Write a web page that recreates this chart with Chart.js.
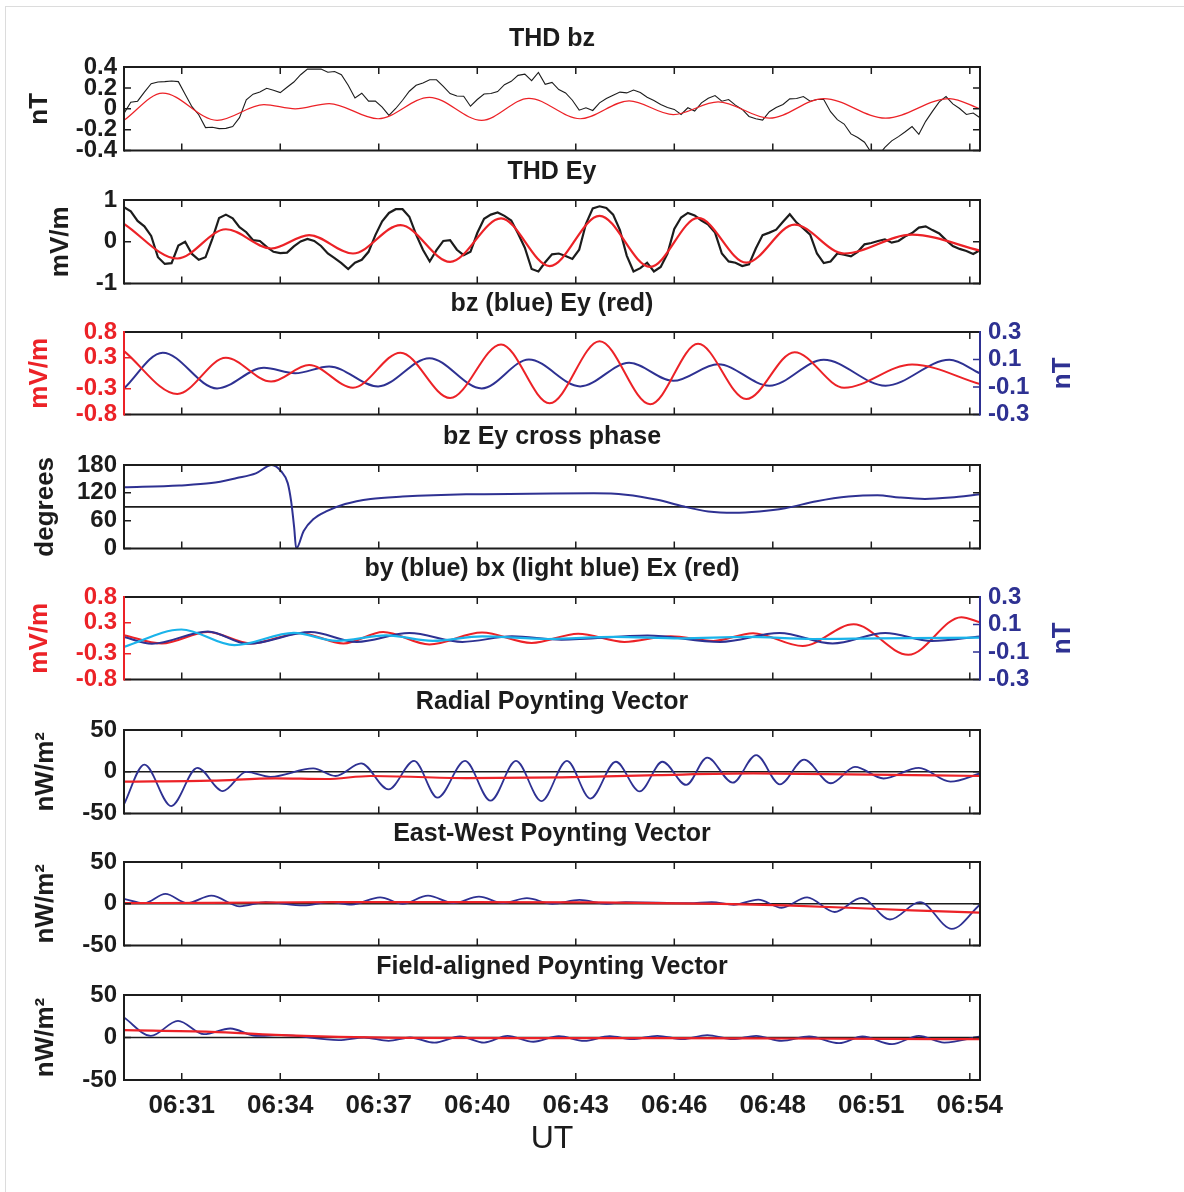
<!DOCTYPE html>
<html>
<head>
<meta charset="utf-8">
<script src="https://cdn.jsdelivr.net/npm/chart.js@4.4.1/dist/chart.umd.min.js"></script>
<style>
  html, body { margin: 0; padding: 0; background: #fff; }
  #page { position: relative; width: 1184px; height: 1192px; overflow: hidden; background: #fff; }
  #edge { position: absolute; left: 5px; top: 6px; width: 1200px; height: 1200px; border-left: 1px solid #dcdcdc; border-top: 1px solid #dcdcdc; }
  canvas { position: absolute; left: 0; }
</style>
</head>
<body>
<div id="page"><div id="edge"></div></div>
<script>
// time axis, minutes after 06:00 UT
const tMin = 29.8, tMax = 55.0;
const tickMinutes = [31.5, 34.4, 37.3, 40.2, 43.1, 46.0, 48.9, 51.8, 54.7];
const tickLabels = ['06:31', '06:34', '06:37', '06:40', '06:43', '06:46', '06:48', '06:51', '06:54'];

// y tick sets
const bzTicks = [-0.4, -0.2, 0, 0.2, 0.4];
const eyTicks = [-1, 0, 1];
const mvTicks = [-0.8, -0.3, 0.3, 0.8];
const ntTicks = [-0.3, -0.1, 0.1, 0.3];
const phaseTicks = [0, 60, 120, 180];
const fluxTicks = [-50, 0, 50];

// raw THD samples, every 0.2 min
const gridT = [
  29.8,30,30.2,30.4,30.6,30.8,31,31.2,31.4,31.6,
  31.8,32,32.2,32.4,32.6,32.8,33,33.2,33.4,33.6,
  33.8,34,34.2,34.4,34.6,34.8,35,35.2,35.4,35.6,
  35.8,36,36.2,36.4,36.6,36.8,37,37.2,37.4,37.6,
  37.8,38,38.2,38.4,38.6,38.8,39,39.2,39.4,39.6,
  39.8,40,40.2,40.4,40.6,40.8,41,41.2,41.4,41.6,
  41.8,42,42.2,42.4,42.6,42.8,43,43.2,43.4,43.6,
  43.8,44,44.2,44.4,44.6,44.8,45,45.2,45.4,45.6,
  45.8,46,46.2,46.4,46.6,46.8,47,47.2,47.4,47.6,
  47.8,48,48.2,48.4,48.6,48.8,49,49.2,49.4,49.6,
  49.8,50,50.2,50.4,50.6,50.8,51,51.2,51.4,51.6,
  51.8,52,52.2,52.4,52.6,52.8,53,53.2,53.4,53.6,
  53.8,54,54.2,54.4,54.6,54.8,55
];
const bzObs = [
  -0.044,0.063,0.073,0.16,0.24,0.256,0.26,0.266,0.26,0.14,
  0.02,-0.057,-0.18,-0.177,-0.19,-0.187,-0.17,-0.085,0.085,0.14,
  0.16,0.196,0.177,0.155,0.206,0.256,0.326,0.38,0.38,0.38,
  0.35,0.357,0.326,0.225,0.104,0.149,0.073,0.073,0.016,-0.063,
  0.003,0.082,0.168,0.225,0.247,0.278,0.278,0.215,0.146,0.123,
  0.12,0.025,0.089,0.142,0.146,0.165,0.231,0.263,0.32,0.332,
  0.27,0.348,0.234,0.253,0.184,0.152,0.082,-0.013,0.01,-0.016,
  0.057,0.098,0.13,0.16,0.152,0.18,0.155,0.11,0.079,0.041,
  0.013,-0.006,-0.054,0.01,-0.022,0.057,0.101,0.127,0.073,0.089,
  0.035,-0.006,-0.073,-0.095,-0.108,-0.028,0.013,0.041,0.095,0.098,
  0.117,0.073,0.089,0.089,-0.028,-0.104,-0.146,-0.24,-0.275,-0.32,
  -0.42,-0.45,-0.37,-0.307,-0.266,-0.22,-0.17,-0.244,-0.12,-0.025,
  0.066,0.117,0.047,0.003,-0.054,-0.041,-0.085
];
const eyObs = [
  0.83,0.73,0.50,0.37,0.14,-0.37,-0.53,-0.51,-0.09,0.0,
  -0.29,-0.43,-0.37,0.07,0.57,0.65,0.56,0.35,0.23,0.04,
  0.02,-0.12,-0.24,-0.27,-0.26,-0.11,0.01,0.07,0.02,-0.10,
  -0.28,-0.39,-0.51,-0.65,-0.50,-0.43,-0.24,0.16,0.49,0.69,
  0.78,0.78,0.60,0.17,-0.19,-0.47,-0.20,0.02,0.04,-0.19,
  -0.32,-0.24,0.21,0.55,0.65,0.70,0.62,0.51,0.20,-0.14,
  -0.65,-0.71,-0.49,-0.30,-0.28,-0.34,-0.41,-0.19,0.43,0.80,
  0.85,0.81,0.65,0.28,-0.33,-0.71,-0.63,-0.50,-0.71,-0.60,
  -0.28,0.31,0.58,0.69,0.63,0.51,0.41,0.22,-0.28,-0.47,
  -0.50,-0.58,-0.54,-0.16,0.16,0.22,0.29,0.48,0.66,0.46,
  0.32,0.17,-0.28,-0.51,-0.47,-0.28,-0.31,-0.35,-0.24,-0.06,
  -0.03,0.02,0.06,-0.02,0.02,0.13,0.21,0.34,0.37,0.28,
  0.20,0.04,-0.10,-0.17,-0.22,-0.29,-0.20
];

// band-passed bz and Ey (turning points)
const bzFitT = [29.8,30.94,32.54,33.92,34.84,35.84,37.28,38.79,40.33,41.72,43.23,44.67,45.97,47.29,48.8,50.4,52.22,54.1,55.0];
const bzFitV = [-0.11,0.15,-0.11,0.04,0.0,0.05,-0.095,0.11,-0.11,0.10,-0.095,0.076,-0.055,0.066,-0.09,0.098,-0.09,0.098,0.0];
const eyFitT = [29.8,31.37,32.8,34.13,35.25,36.54,37.94,39.4,40.9,42.33,43.8,45.29,46.7,48.12,49.54,51.0,53.0,55.0];
const eyFitV = [0.43,-0.40,0.30,-0.16,0.16,-0.28,0.40,-0.48,0.56,-0.58,0.62,-0.60,0.57,-0.50,0.41,-0.28,0.17,-0.21];

// bz-Ey cross phase, degrees
const phaseT = [29.8,31.43,32.37,33.12,33.68,34.15,34.43,34.62,34.72,34.81,34.87,35.09,35.37,35.75,36.31,37.06,38.0,39.87,41.75,43.63,44.57,45.5,46.25,47.0,47.75,48.5,49.26,50.19,51.13,51.98,52.63,53.38,54.13,55.0];
const phaseV = [132,136,141,152,162,180,166,141,102,45,0,38,63,80,96,107,112,117,118,119,116,105,91,80,77,80,87,102,112,115,110,107,110,117];
const phaseRef = [90, 90];

// Ex, by, bx
const exT = [29.8,30.91,32.27,33.54,35.0,36.26,37.43,38.79,40.34,41.8,43.17,44.53,45.89,47.15,48.32,49.78,51.28,52.89,54.45,55.0];
const exV = [0.06,-0.10,0.12,-0.10,0.10,-0.10,0.12,-0.12,0.11,-0.09,0.09,-0.07,0.04,-0.05,0.10,-0.15,0.27,-0.32,0.41,0.31];
const byT = [29.8,30.62,32.27,33.44,35.29,36.65,38.2,39.76,41.22,42.68,45.21,47.35,49.1,50.66,52.21,53.58,55.0];
const byV = [0.01,-0.04,0.05,-0.04,0.045,-0.026,0.038,-0.026,0.014,-0.01,0.02,-0.026,0.038,-0.038,0.038,-0.019,0.014];
const bxT = [29.8,31.49,33.05,34.8,36.06,37.52,38.89,40.34,42.29,44.24,46.18,48.13,50.07,52.02,55.0];
const bxV = [-0.062,0.064,-0.05,0.04,-0.019,0.021,-0.019,0.014,-0.005,0.01,0.0,0.01,-0.005,0.0,0.005];

// Poynting flux components, nW/m^2 (wave and running mean)
const radialT = [29.8,30.4,31.19,31.96,32.71,33.4,34.12,35.37,36.03,36.78,37.59,38.34,39.03,39.84,40.59,41.34,42.09,42.84,43.53,44.28,44.98,45.65,46.35,46.97,47.72,48.41,49.11,49.82,50.61,51.32,52.16,53.2,54.13,55.0];
const radialV = [-39,8.6,-41,4.7,-23,0,-6,4,-5,10,-21,13,-31,13,-34.5,13,-35,13,-32,12,-23.5,12,-15.7,17,-13,20,-15,14.5,-13.7,6,-8,4.7,-11.8,-2];
const radialMeanT = [29.8,32.37,34.25,35.75,37.06,39.87,42.69,45.5,48.32,51.13,55.0];
const radialMeanV = [-11.8,-10.6,-7.8,-8.6,-5,-7.5,-6.7,-4,-2,-3,-5];

const ewT = [29.8,30.4,31.02,31.66,32.37,33.21,33.97,35.09,35.84,36.5,37.34,38.0,38.75,39.5,40.25,40.96,41.66,42.41,43.21,44.0,44.57,46.44,47.1,47.75,48.47,49.16,49.91,50.72,51.51,52.35,53.23,54.17,55.0];
const ewV = [6,0.8,11.8,0.8,9.8,-3,2,-2,2,-1,7.8,0,9.8,0.8,8.6,0.8,6.7,0,4.7,0,2,0.8,2,-1.2,5,-4.7,7.8,-9.8,7,-18.8,2,-30,-0.8];
const ewMeanT = [29.8,32.37,36.12,39.87,43.63,47.38,49.26,51.13,53.0,55.0];
const ewMeanV = [0.8,1.2,2,2,1.6,0,-2,-4.7,-7.8,-10.6];

const faT = [29.8,30.59,31.39,32.15,32.93,33.68,34.43,36.12,36.87,37.59,38.22,38.94,39.69,40.4,41.09,41.85,42.6,43.35,44.1,44.75,45.5,46.25,46.97,47.72,48.41,49.16,49.97,50.85,51.54,52.41,53.2,53.95,55.0];
const faV = [23.5,2,19.6,3.9,10.6,2,2.7,-3,0,-4,0,-6,1.2,-6,2,-5,1.6,-4,1.6,-2,2,-2,2.7,-2,2,-4,1.2,-6.7,1.2,-7.8,2,-6,1.2];
const faMeanT = [29.8,32.37,34.25,36.12,38.0,41.75,45.5,49.26,55.0];
const faMeanV = [8.6,6.7,3,0.8,-0.4,-0.8,-0.8,-1.2,-2];
const fluxRef = [0, 0];

const RED = '#ec2227', BLUE = '#2e3192', CYAN = '#1ab3ea', INK = '#1c1c1c';
const FONT = '"Liberation Sans", Arial, sans-serif';

const xy = (t, v) => t.map((x, i) => ({ x, y: v[i] }));
const ends = [tMin, tMax];

function line(data, color, width, extra) {
  return Object.assign({
    data, borderColor: color, borderWidth: width, pointRadius: 0,
    fill: false, cubicInterpolationMode: 'monotone'
  }, extra || {});
}
const raw = { cubicInterpolationMode: 'default', tension: 0 };

const panels = [
  { top: 67, title: 'THD bz',
    left: { min: -0.4, max: 0.4, ticks: bzTicks, label: 'nT', color: INK, labelX: 40 },
    sets: [line(xy(bzFitT, bzFitV), RED, 1.2), line(xy(gridT, bzObs), INK, 1.1, raw)] },
  { top: 200, title: 'THD Ey',
    left: { min: -1, max: 1, ticks: eyTicks, label: 'mV/m', color: INK, labelX: 61 },
    sets: [line(xy(eyFitT, eyFitV), RED, 2.2), line(xy(gridT, eyObs), INK, 2.2, raw)] },
  { top: 332, title: 'bz (blue) Ey (red)',
    left: { min: -0.8, max: 0.8, ticks: mvTicks, label: 'mV/m', color: RED, labelX: 40 },
    right: { min: -0.3, max: 0.3, ticks: ntTicks, label: 'nT', color: BLUE },
    sets: [line(xy(eyFitT, eyFitV), RED, 2), line(xy(bzFitT, bzFitV), BLUE, 2, { yAxisID: 'y2' })] },
  { top: 465, title: 'bz Ey cross phase',
    left: { min: 0, max: 180, ticks: phaseTicks, label: 'degrees', color: INK, labelX: 46 },
    sets: [line(xy(phaseT, phaseV), BLUE, 2), line(xy(ends, phaseRef), INK, 1.8, raw)] },
  { top: 597, title: 'by (blue) bx (light blue) Ex (red)',
    left: { min: -0.8, max: 0.8, ticks: mvTicks, label: 'mV/m', color: RED, labelX: 40 },
    right: { min: -0.3, max: 0.3, ticks: ntTicks, label: 'nT', color: BLUE },
    sets: [line(xy(bxT, bxV), CYAN, 2.2, { yAxisID: 'y2' }), line(xy(byT, byV), BLUE, 2, { yAxisID: 'y2' }), line(xy(exT, exV), RED, 2)] },
  { top: 730, title: 'Radial Poynting Vector',
    left: { min: -50, max: 50, ticks: fluxTicks, label: 'nW/m²', color: INK, labelX: 46 },
    sets: [line(xy(radialMeanT, radialMeanV), RED, 2.2), line(xy(radialT, radialV), BLUE, 1.8), line(xy(ends, fluxRef), INK, 1.6, raw)] },
  { top: 862, title: 'East-West Poynting Vector',
    left: { min: -50, max: 50, ticks: fluxTicks, label: 'nW/m²', color: INK, labelX: 46 },
    sets: [line(xy(ewMeanT, ewMeanV), RED, 2.2), line(xy(ewT, ewV), BLUE, 1.8), line(xy(ends, fluxRef), INK, 1.6, raw)] },
  { top: 995, title: 'Field-aligned Poynting Vector',
    left: { min: -50, max: 50, ticks: fluxTicks, label: 'nW/m²', color: INK, labelX: 46 },
    sets: [line(xy(faMeanT, faMeanV), RED, 2.2), line(xy(faT, faV), BLUE, 1.8), line(xy(ends, fluxRef), INK, 1.6, raw)] }
];

// box, inward tick marks, panel title and rotated unit labels
const framePlugin = {
  id: 'frame',
  afterDatasetsDraw(chart) {
    const p = chart.options.plugins.frame;
    const { ctx, chartArea: a, scales } = chart;
    const len = 7;
    ctx.save();

    ctx.lineWidth = 1.5;
    ctx.strokeStyle = INK;
    ctx.beginPath();
    tickMinutes.forEach(v => {
      const px = scales.x.getPixelForValue(v);
      ctx.moveTo(px, a.top); ctx.lineTo(px, a.top + len);
      ctx.moveTo(px, a.bottom); ctx.lineTo(px, a.bottom - len);
    });
    ctx.stroke();

    const yTicks = (scale, vals, x, dir, color) => {
      ctx.strokeStyle = color;
      ctx.beginPath();
      vals.forEach(v => {
        const py = scale.getPixelForValue(v);
        ctx.moveTo(x, py); ctx.lineTo(x + dir * len, py);
      });
      ctx.stroke();
    };
    yTicks(scales.y, p.left.ticks, a.left, 1, p.left.color);
    if (p.right) yTicks(scales.y2, p.right.ticks, a.right, -1, p.right.color);
    else yTicks(scales.y, p.left.ticks, a.right, -1, INK);

    ctx.lineWidth = 2;
    ctx.strokeStyle = INK;
    ctx.beginPath();
    ctx.moveTo(a.left, a.top); ctx.lineTo(a.right, a.top);
    ctx.moveTo(a.left, a.bottom); ctx.lineTo(a.right, a.bottom);
    ctx.stroke();
    ctx.strokeStyle = p.left.color;
    ctx.beginPath(); ctx.moveTo(a.left, a.top - 1); ctx.lineTo(a.left, a.bottom + 1); ctx.stroke();
    ctx.strokeStyle = p.right ? p.right.color : INK;
    ctx.beginPath(); ctx.moveTo(a.right, a.top - 1); ctx.lineTo(a.right, a.bottom + 1); ctx.stroke();

    ctx.fillStyle = INK;
    ctx.font = 'bold 25px ' + FONT;
    ctx.textAlign = 'center';
    ctx.textBaseline = 'middle';
    ctx.fillText(p.title, (a.left + a.right) / 2, a.top - 28);

    const midY = (a.top + a.bottom) / 2;
    ctx.font = 'bold 26px ' + FONT;
    const vlabel = (text, x, color) => {
      ctx.save();
      ctx.translate(x, midY);
      ctx.rotate(-Math.PI / 2);
      ctx.fillStyle = color;
      ctx.fillText(text, 0, 0);
      ctx.restore();
    };
    vlabel(p.left.label, p.left.labelX, p.left.color);
    if (p.right) vlabel(p.right.label, 1063, p.right.color);
    ctx.restore();
  }
};

function axis(a, side) {
  return {
    position: side, min: a.min, max: a.max,
    grid: { display: false, drawTicks: false },
    border: { display: false },
    afterBuildTicks: s => { s.ticks = a.ticks.map(value => ({ value })); },
    afterFit: s => { s.width = side === 'left' ? 124 : 204; },
    ticks: {
      autoSkip: false, padding: side === 'left' ? 7 : 8, color: a.color,
      font: { family: FONT, size: 24, weight: 'bold' },
      callback: v => String(v)
    }
  };
}

const page = document.getElementById('page');
panels.forEach((p, i) => {
  const last = i === panels.length - 1;
  const c = document.createElement('canvas');
  c.width = 1184;
  c.height = 50 + 85 + (last ? 80 : 20);
  c.style.top = (p.top - 50) + 'px';
  page.appendChild(c);

  const scales = {
    x: {
      type: 'linear', min: tMin, max: tMax,
      grid: { display: false, drawTicks: false },
      border: { display: false },
      afterBuildTicks: s => { s.ticks = tickMinutes.map(value => ({ value })); },
      afterFit: s => { s.height = last ? 80 : 0; },
      ticks: {
        display: last, autoSkip: false, maxRotation: 0, padding: 10, color: INK,
        font: { family: FONT, size: 26, weight: 'bold' },
        callback: (v, k) => tickLabels[k]
      },
      title: {
        display: last, text: 'UT', color: INK,
        font: { family: FONT, size: 32 },
        padding: { top: 0, bottom: 2 }
      }
    },
    y: axis(p.left, 'left')
  };
  if (p.right) scales.y2 = axis(p.right, 'right');

  new Chart(c, {
    type: 'line',
    data: { datasets: p.sets },
    options: {
      responsive: false,
      animation: false,
      layout: { padding: { top: 50, bottom: last ? 0 : 20, left: 0, right: p.right ? 0 : 204 } },
      plugins: {
        legend: { display: false },
        tooltip: { enabled: false },
        frame: p
      },
      scales
    },
    plugins: [framePlugin]
  });
});
</script>
</body>
</html>
